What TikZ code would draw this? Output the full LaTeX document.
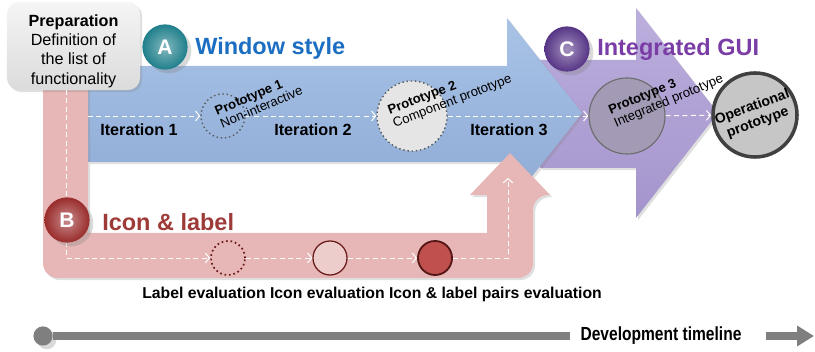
\documentclass[tikz,border=0pt]{standalone}
\usepackage{fontspec}
\setmainfont{Liberation Sans}
\usetikzlibrary{arrows.meta,shadows}
\definecolor{bluetop}{HTML}{A9C3E6}
\definecolor{bluebot}{HTML}{8DAAD5}
\definecolor{purpletop}{HTML}{BCAEDD}
\definecolor{purplebot}{HTML}{A494CC}
\definecolor{pinkband}{HTML}{E6B7B6}
\definecolor{blueword}{HTML}{1B6EC2}
\definecolor{redword}{HTML}{9E3B38}
\definecolor{purpleword}{HTML}{7A3DA6}
\definecolor{darkred}{HTML}{6A1C1C}
\definecolor{evalred}{HTML}{C0504D}
\definecolor{protopurple}{HTML}{A39BB6}
\definecolor{timegray}{HTML}{7F7F7F}
\definecolor{ballteal}{HTML}{1F7F8B}
\definecolor{ballred}{HTML}{9A2C2C}
\definecolor{ballpurple}{HTML}{563586}
\tikzset{
  band/.style={drop shadow={opacity=0.25,shadow xshift=1.5pt,shadow yshift=-1.5pt}},
  flow/.style={white, line width=0.7pt, dash pattern=on 3.5pt off 2.5pt,
    -{Straight Barb[length=3pt,width=7pt]}},
  iter/.style={font=\fontsize{11.5}{13}\selectfont\bfseries},
  letterball/.style={circle, minimum size=1.13cm, inner sep=0pt, text=white,
    font=\fontsize{15}{15}\selectfont\bfseries, drop shadow={opacity=0.3},
    inner color=#1!55!white, outer color=#1},
  title/.style={anchor=west, inner sep=0pt, font=\fontsize{16.7}{18}\selectfont\bfseries},
  protolabel/.style={anchor=west, inner sep=0pt, align=left, font=\fontsize{9.3}{10}\selectfont},
  evalcircle/.style={circle, minimum size=0.85cm, inner sep=0pt}
}

\begin{document}
\begin{tikzpicture}[x=0.025cm, y=-0.025cm]
\useasboundingbox (0,0) rectangle (815,352);

% big arrows
\path[band, top color=purpletop, bottom color=purplebot]
  (540,60) -- (636,60) -- (636,8) -- (718,113) -- (636,218) -- (636,168) -- (540,168) -- cycle;
\path[band, top color=bluetop, bottom color=bluebot]
  (88,66) -- (507,66) -- (507,18) -- (582,113) -- (507,208) -- (507,162) -- (88,162) -- cycle;
\path[band, fill=pinkband]
  (88,80) -- (43,80) [rounded corners=0.375cm] -- (43,278) -- (533,278) -- (533,195)
  [sharp corners] -- (550,195) -- (510,153) -- (470,195) -- (487,195) -- (487,233) -- (88,233) -- cycle;

% preparation
\node[band, rounded corners=0.3cm, minimum width=3.325cm, minimum height=2.2cm,
  top color=gray!8, bottom color=gray!28] (prep) at (73.5,46) {};
\node[align=center, inner sep=0pt, font=\fontsize{11.5}{13.8}\selectfont] (preptext) at (73.5,51)
  {\textbf{Preparation}\\Definition of\\the list of\\functionality};

% prototypes
\node[circle, minimum size=1.1cm, draw=gray!70!black, dotted, line width=1pt] (p1) at (223,116) {};
\node[circle, minimum size=1.75cm, fill=gray!20, draw=gray!70!black, dotted, line width=1pt] (p2) at (412,116) {};
\node[circle, minimum size=1.9cm, fill=protopurple, draw=gray!85!black, line width=0.8pt] (p3) at (627,116) {};
\node[circle, minimum size=2.1cm, fill=gray!45, draw=black!75, line width=2.5pt] (op) at (755,115) {};

\coordinate (bstart) at (88,116);
\draw[flow] (bstart) -- (p1);
\draw[flow] (p1) -- (p2);
\draw[flow] (p2) -- (p3);
\draw[flow] (p3) -- (op);

\node[iter] (it1) at (139,130) {Iteration 1};
\node[iter] (it2) at (313,130) {Iteration 2};
\node[iter] (it3) at (509,130) {Iteration 3};

\node[protolabel, rotate=23] (p1text) at (218,118) {\textbf{Prototype 1}\\Non-interactive};
\node[protolabel, rotate=21] (p2text) at (391,118) {\textbf{Prototype 2}\\Component prototype};
\node[protolabel, rotate=23] (p3text) at (612,118) {\textbf{Prototype 3}\\Integrated prototype};
\node[align=center, inner sep=0pt, rotate=20, font=\fontsize{10}{11.5}\selectfont\bfseries] (optext)
  at (op) {Operational\\prototype};

% icon & label track
\node[evalcircle, draw=darkred, dotted, line width=1.2pt] (e1) at (228,258) {};
\node[evalcircle, draw=darkred, fill=pinkband!70!white, line width=0.9pt] (e2) at (330,258) {};
\node[evalcircle, draw=darkred!80!black, fill=evalred, line width=1.3pt] (e3) at (435,258) {};

\coordinate (ptop) at (66,90);
\coordinate (pcorner) at (66,258);
\coordinate (pturn) at (508,258);
\coordinate (pend) at (508,178);
\draw[flow] (ptop) -- (pcorner) -- (e1);
\draw[flow] (e1) -- (e2);
\draw[flow] (e2) -- (e3);
\draw[flow] (e3) -- (pturn) -- (pend);

\node[font=\fontsize{11.2}{13}\selectfont\bfseries] (evaltext) at (372,294)
  {Label evaluation Icon evaluation Icon \& label pairs evaluation};

% headings
\node[letterball=ballteal] (A) at (165,47) {A};
\node[title, text=blueword] (Atitle) at (195,48) {Window style};
\node[letterball=ballred] (B) at (67,220) {B};
\node[title, text=redword] (Btitle) at (102,222) {Icon \& label};
\node[letterball=ballpurple] (C) at (567,49) {C};
\node[title, text=purpleword] (Ctitle) at (597,49) {Integrated GUI};

% timeline
\node[circle, fill=timegray, minimum size=0.48cm, inner sep=0pt, drop shadow={opacity=0.3}] (tstart) at (43,336) {};
\node[inner sep=0pt, font=\fontsize{13.5}{15}\selectfont\bfseries] (tlabel) at (661,336)
  {\scalebox{0.82}[1]{Development timeline}};
\coordinate (tline) at (570,336);
\coordinate (tarrow) at (766,336);
\coordinate (tend) at (814,336);
\draw[timegray, line width=5.7pt, drop shadow={opacity=0.3}] (tstart) -- (tline);
\draw[timegray, line width=5.7pt, -{Triangle[length=12pt,width=14pt]}] (tarrow) -- (tend);
\end{tikzpicture}
\end{document}
